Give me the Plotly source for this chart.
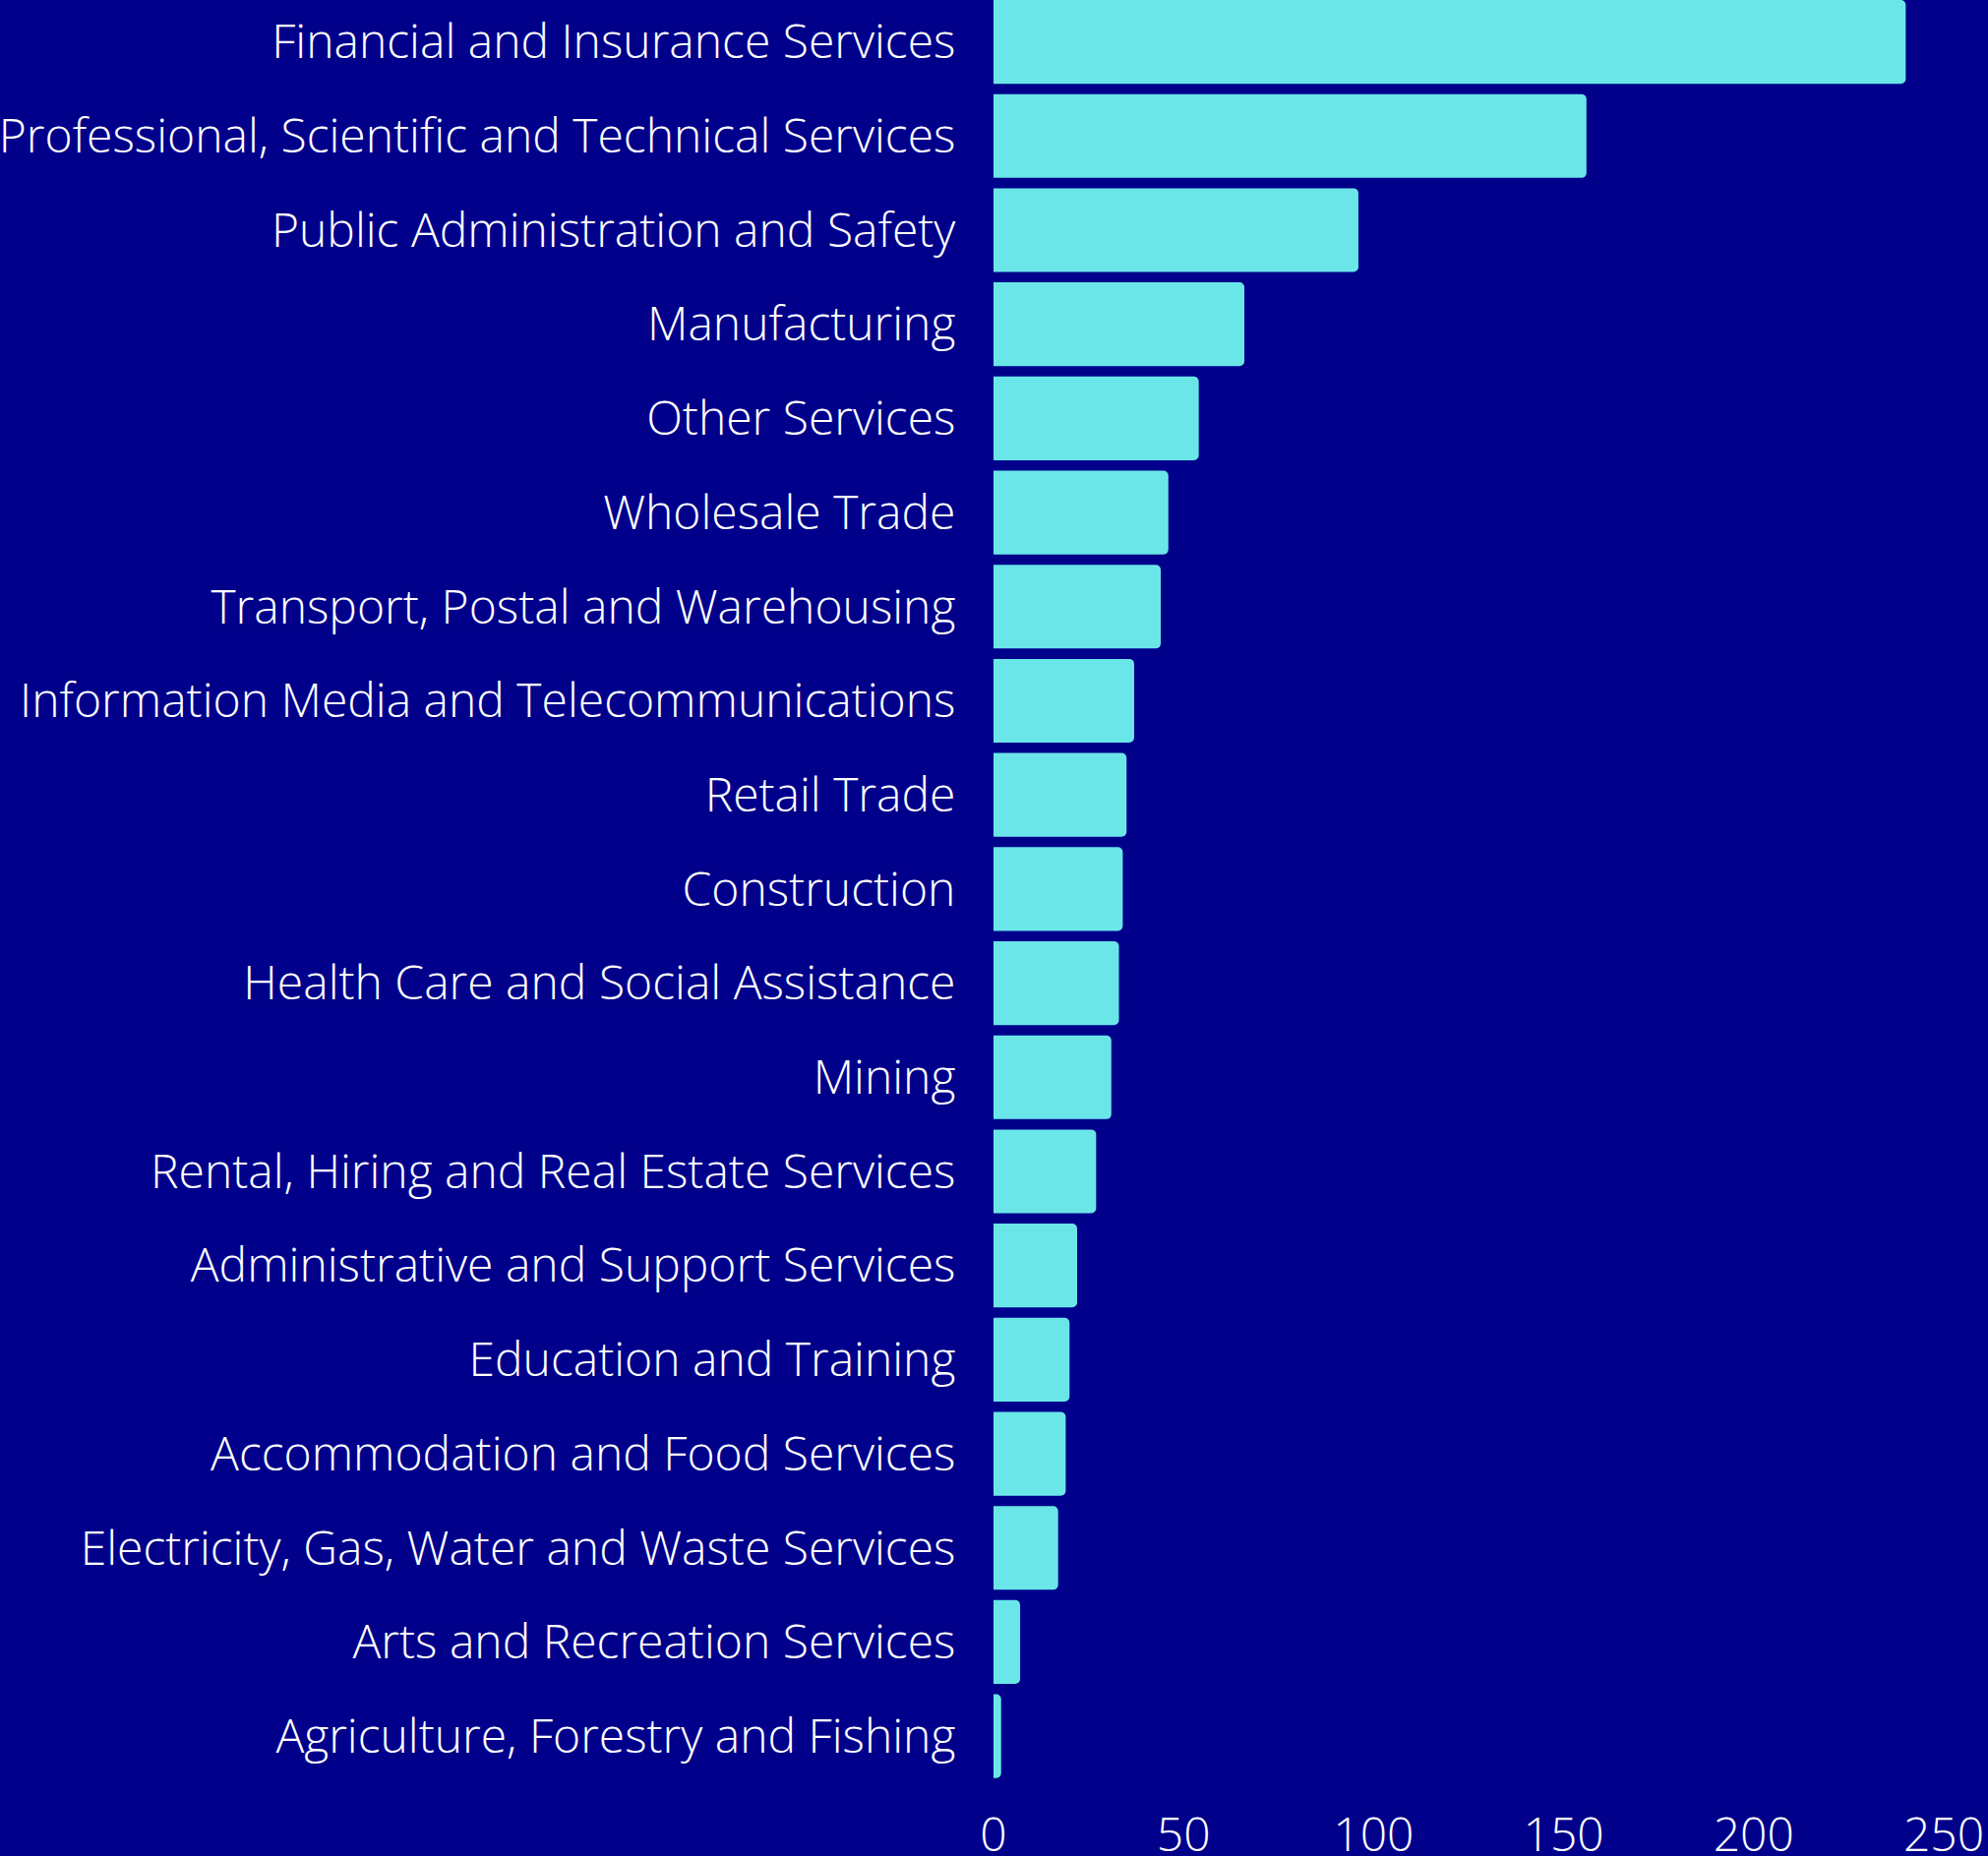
import plotly.graph_objects as go

categories = [
    "Financial and Insurance Services",
    "Professional, Scientific and Technical Services",
    "Public Administration and Safety",
    "Manufacturing",
    "Other Services",
    "Wholesale Trade",
    "Transport, Postal and Warehousing",
    "Information Media and Telecommunications",
    "Retail Trade",
    "Construction",
    "Health Care and Social Assistance",
    "Mining",
    "Rental, Hiring and Real Estate Services",
    "Administrative and Support Services",
    "Education and Training",
    "Accommodation and Food Services",
    "Electricity, Gas, Water and Waste Services",
    "Arts and Recreation Services",
    "Agriculture, Forestry and Fishing",
]
values = [240, 156, 96, 66, 54, 46, 44, 37, 35, 34, 33, 31, 27, 22, 20, 19, 17, 7, 2]
x_ticks = [0, 50, 100, 150, 200, 250]

BG = "#00008b"
BAR = "#6ae6e9"
FONT = dict(family="Open Sans", size=48, color="white", weight=300)

fig = go.Figure(
    go.Bar(
        x=values,
        y=categories,
        orientation="h",
        marker=dict(color=BAR, line=dict(width=0), cornerradius=5),
        hoverinfo="x+y",
    )
)

fig.update_layout(
    width=2021,
    height=1887,
    paper_bgcolor=BG,
    plot_bgcolor=BG,
    bargap=0.11,
    margin=dict(l=1010, r=45, t=0, b=74, pad=0),
    font=FONT,
    showlegend=False,
)
fig.update_yaxes(
    range=[len(categories) - 0.5, -0.445],
    showgrid=False,
    zeroline=False,
    showline=False,
    ticks="outside",
    ticklen=28,
    tickcolor=BG,
    tickfont=FONT,
    automargin=False,
)
fig.update_xaxes(
    range=[0, 250],
    tickvals=x_ticks,
    ticktext=[str(t) for t in x_ticks],
    showgrid=False,
    zeroline=False,
    showline=False,
    ticks="outside",
    ticklen=10,
    tickcolor=BG,
    tickfont=FONT,
    automargin=False,
)

fig.write_html(
    "out.html",
    config={"displayModeBar": False},
    post_script="document.body.style.margin='0';document.body.style.overflow='hidden';",
)
